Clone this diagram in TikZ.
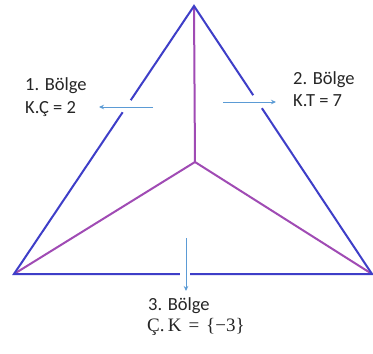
\documentclass[tikz,border=0pt]{standalone}
\usepackage{fontspec}
\setsansfont{Carlito}
\newfontfamily\mathlike{Liberation Serif}
\usetikzlibrary{arrows.meta}
\definecolor{edgeblue}{RGB}{62,62,200}
\definecolor{innerpurple}{RGB}{160,75,180}
\definecolor{arrowblue}{RGB}{91,155,213}
\tikzset{
  edge/.style={draw=edgeblue, line width=2pt},
  inner/.style={draw=innerpurple, line width=2pt},
  gap/.style={draw=white, line width=5pt},
  regarrow/.style={draw=arrowblue, line width=0.9pt, -{Stealth[length=5pt,width=4.5pt]}},
  lbl/.style={font=\sffamily\fontsize{18.5}{22}\selectfont, anchor=base west, inner sep=0pt, text=black!85}
}
\begin{document}
\begin{tikzpicture}[x=1pt,y=-1pt]
\useasboundingbox[fill=white] (0,0) rectangle (373,354);
\coordinate (A) at (194,6);
\coordinate (L) at (14,274);
\coordinate (R) at (372,274);
\coordinate (C) at (195,162);
% inner lines
\draw[inner] (A) -- (C);
\draw[inner] (C) -- (L);
\draw[inner] (C) -- (R);
% triangle
\draw[edge, line join=miter] (A) -- (L) -- (R) -- cycle;
% gaps
\path (A) -- (L) coordinate[pos=0.352] (g1) coordinate[pos=0.396] (g2);
\path (A) -- (R) coordinate[pos=0.333] (g3) coordinate[pos=0.381] (g4);
\path (L) -- (R) coordinate[pos=0.463] (g5) coordinate[pos=0.493] (g6);
\draw[gap] (g1) -- (g2);
\draw[gap] (g3) -- (g4);
\draw[gap] (g5) -- (g6);
% arrows
\coordinate (a1s) at (153,107);
\coordinate (a1e) at (99,107);
\coordinate (a2s) at (223,102);
\coordinate (a2e) at (276,102);
\coordinate (a3s) at (186,238);
\coordinate (a3e) at (186,291);
\draw[regarrow] (a1s) -- (a1e);
\draw[regarrow] (a2s) -- (a2e);
\draw[regarrow] (a3s) -- (a3e);
% labels
\node[lbl] (t1) at (25,90) {1. Bölge};
\node[lbl] (t1b) at (25,113) {K.Ç = 2};
\node[lbl] (t2) at (293,84) {2. Bölge};
\node[lbl] (t2b) at (293,106) {K.T = 7};
\node[lbl] (t3) at (148,310) {3. Bölge};
\node[anchor=base west, inner sep=0pt, text=black!85, font=\mathlike\fontsize{19}{22}\selectfont] (t3b) at (147,331) {Ç.\,K\hspace{7pt}=\hspace{7pt}\{−3\}};
\end{tikzpicture}
\end{document}
